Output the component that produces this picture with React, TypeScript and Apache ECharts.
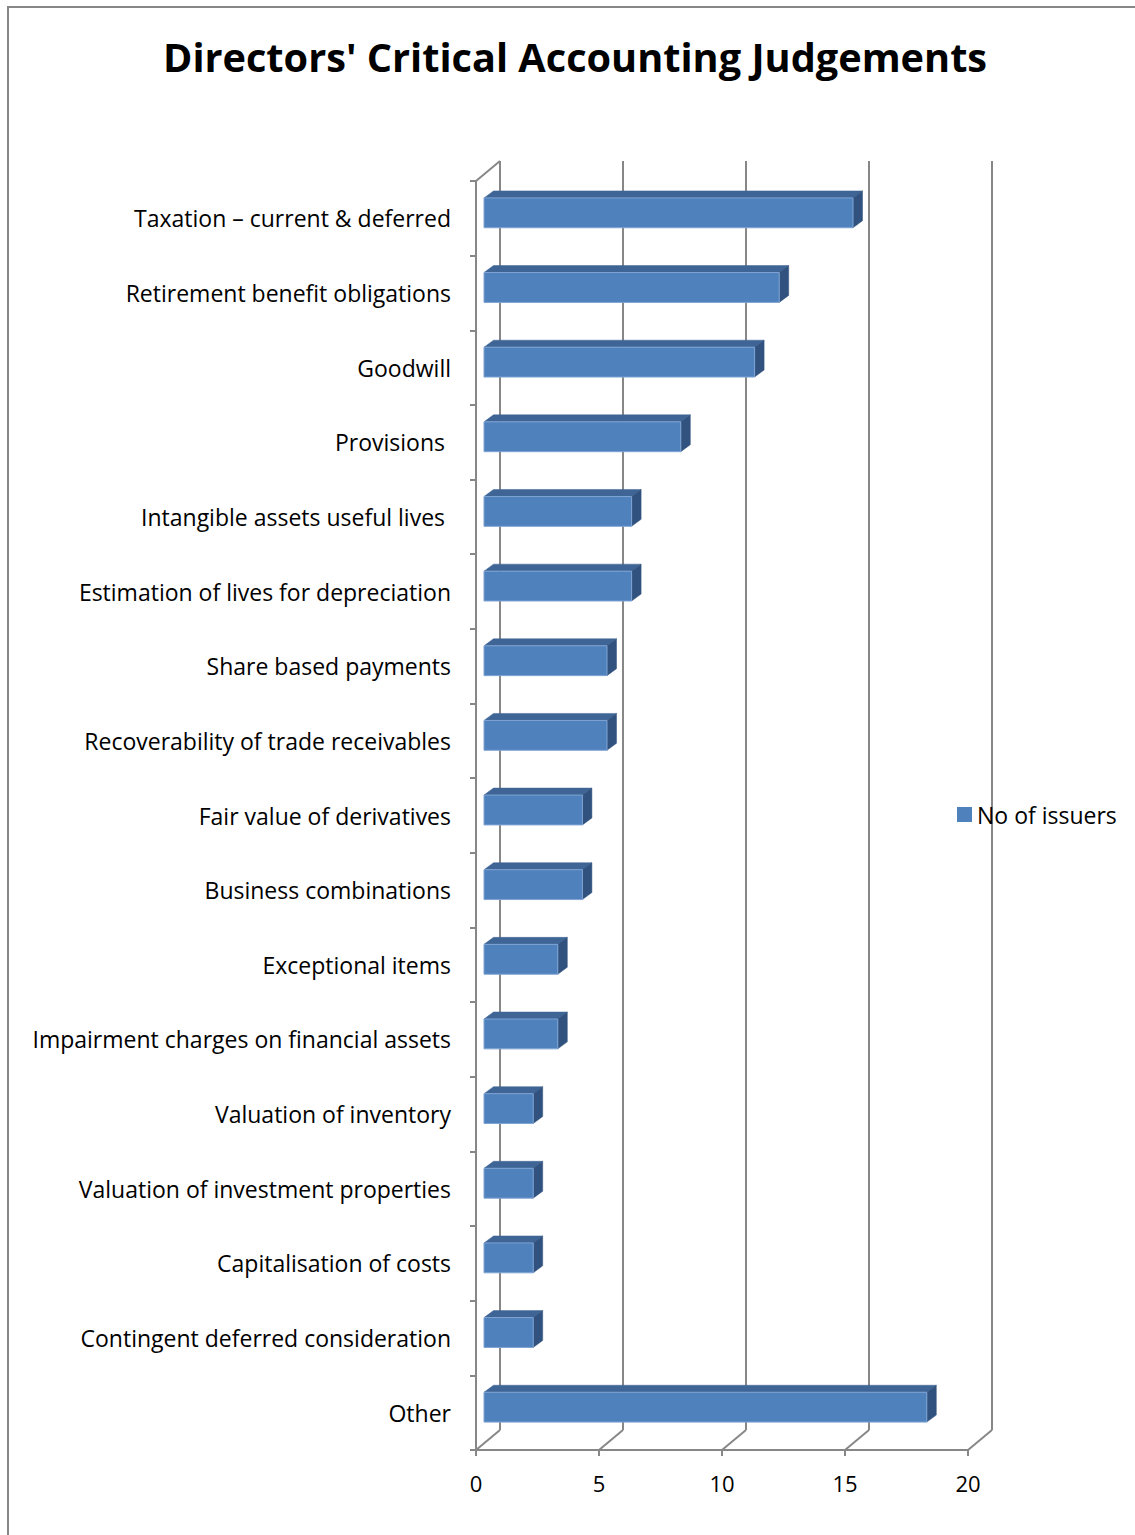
import React, { useEffect, useRef } from "react";
import * as echarts from "echarts";

const TITLE = "Directors' Critical Accounting Judgements";
const SERIES_NAME = "No of issuers";
const categories = [
  "Taxation – current & deferred",
  "Retirement benefit obligations",
  "Goodwill",
  "Provisions ",
  "Intangible assets useful lives ",
  "Estimation of lives for depreciation",
  "Share based payments",
  "Recoverability of trade receivables",
  "Fair value of derivatives",
  "Business combinations",
  "Exceptional items",
  "Impairment charges on financial assets",
  "Valuation of inventory",
  "Valuation of investment properties",
  "Capitalisation of costs",
  "Contingent deferred consideration",
  "Other",
];
const values = [15, 12, 11, 8, 6, 6, 5, 5, 4, 4, 3, 3, 2, 2, 2, 2, 18];
const xTicks = [0, 5, 10, 15, 20];

const FONT = "'Open Sans', 'Noto Sans', sans-serif";
const GRAY = "#878787";
const BACK_DX = 24;
const BACK_DY = -20;
const BAR_DX = 8;
const BAR_DY = -5.5;
const DEPTH_DX = 9.5;
const DEPTH_DY = -7;

export default function App() {
  const ref = useRef<HTMLDivElement>(null);
  useEffect(() => {
    document.body.style.margin = "0";
    document.body.style.overflow = "hidden";
    const chart = echarts.init(ref.current!, null, { renderer: "svg" });
    const last = categories.length - 1;
    chart.setOption({
      animation: false,
      backgroundColor: "#ffffff",
      title: {
        text: TITLE,
        left: 163,
        top: 37,
        padding: 0,
        textStyle: { fontFamily: FONT, fontWeight: "bold", fontSize: 39.7, color: "#000" },
      },
      legend: {
        left: 957,
        top: 803,
        padding: 0,
        orient: "vertical",
        icon: "rect",
        itemWidth: 15,
        itemHeight: 15,
        data: [SERIES_NAME],
        textStyle: { fontFamily: FONT, fontSize: 23, color: "#000" },
      },
      grid: { left: 476, top: 181, width: 492, height: 1269, containLabel: false },
      xAxis: {
        type: "value",
        min: 0,
        max: 20,
        interval: 5,
        axisLine: { show: true, lineStyle: { color: GRAY, width: 2 } },
        axisTick: { show: true, length: 6, lineStyle: { color: GRAY, width: 2 } },
        splitLine: { show: false },
        axisLabel: { margin: 22, fontFamily: FONT, fontSize: 22, color: "#000" },
      },
      yAxis: {
        type: "category",
        inverse: true,
        data: categories,
        axisLine: { show: true, lineStyle: { color: GRAY, width: 2 } },
        axisTick: { show: true, length: 6, alignWithLabel: false, lineStyle: { color: GRAY, width: 2 } },
        splitLine: { show: false },
        axisLabel: { margin: 25, fontFamily: FONT, fontSize: 23, color: "#000" },
      },
      graphic: [
        {
          type: "rect",
          shape: { x: 8, y: 7, width: 1140, height: 1540 },
          style: { fill: "none", stroke: GRAY, lineWidth: 2 },
          silent: true,
        },
      ],
      series: [
        {
          type: "custom",
          name: "walls",
          silent: true,
          z: 1,
          data: xTicks.map((v) => [v, 0]),
          encode: { x: 0, y: 1 },
          renderItem: (params: any, api: any) => {
            const v = api.value(0);
            const bandH = api.size([0, 1])[1];
            const pTop = api.coord([v, 0]);
            const pBot = api.coord([v, last]);
            const x = pTop[0];
            const topY = pTop[1] - bandH / 2;
            const botY = pBot[1] + bandH / 2;
            const style = { stroke: GRAY, lineWidth: 2 };
            const children: any[] = [
              {
                type: "line",
                shape: { x1: x + BACK_DX, y1: topY + BACK_DY, x2: x + BACK_DX, y2: botY + BACK_DY },
                style,
              },
              {
                type: "line",
                shape: { x1: x, y1: botY, x2: x + BACK_DX, y2: botY + BACK_DY },
                style,
              },
            ];
            if (v === 0) {
              children.push({
                type: "line",
                shape: { x1: x, y1: topY, x2: x + BACK_DX, y2: topY + BACK_DY },
                style,
              });
            }
            return { type: "group", children };
          },
        },
        {
          type: "custom",
          name: SERIES_NAME,
          z: 3,
          itemStyle: { color: "#4F81BD" },
          data: values.map((v, i) => [v, i]),
          encode: { x: 0, y: 1 },
          renderItem: (params: any, api: any) => {
            const v = api.value(0);
            const idx = api.value(1);
            const bandH = api.size([0, 1])[1];
            const p0 = api.coord([0, idx]);
            const p1 = api.coord([v, idx]);
            const h = bandH * 0.4;
            const L = p0[0] + BAR_DX;
            const R = p1[0] + BAR_DX;
            const T = p0[1] + BAR_DY - h / 2;
            const B = p0[1] + BAR_DY + h / 2;
            return {
              type: "group",
              children: [
                {
                  type: "polygon",
                  shape: {
                    points: [
                      [L, T],
                      [R, T],
                      [R + DEPTH_DX, T + DEPTH_DY],
                      [L + DEPTH_DX, T + DEPTH_DY],
                    ],
                  },
                  style: { fill: "#3E6595", stroke: "#3E6595", lineWidth: 0.5 },
                },
                {
                  type: "polygon",
                  shape: {
                    points: [
                      [R, T],
                      [R, B],
                      [R + DEPTH_DX, B + DEPTH_DY],
                      [R + DEPTH_DX, T + DEPTH_DY],
                    ],
                  },
                  style: { fill: "#31527E", stroke: "#31527E", lineWidth: 0.5 },
                },
                {
                  type: "rect",
                  shape: { x: L, y: T, width: R - L, height: B - T },
                  style: { fill: "#4F81BD", stroke: "#7FA4D4", lineWidth: 1 },
                },
              ],
            };
          },
        },
      ],
    });
    return () => chart.dispose();
  }, []);
  return <div ref={ref} style={{ width: 1135, height: 1535 }} />;
}
